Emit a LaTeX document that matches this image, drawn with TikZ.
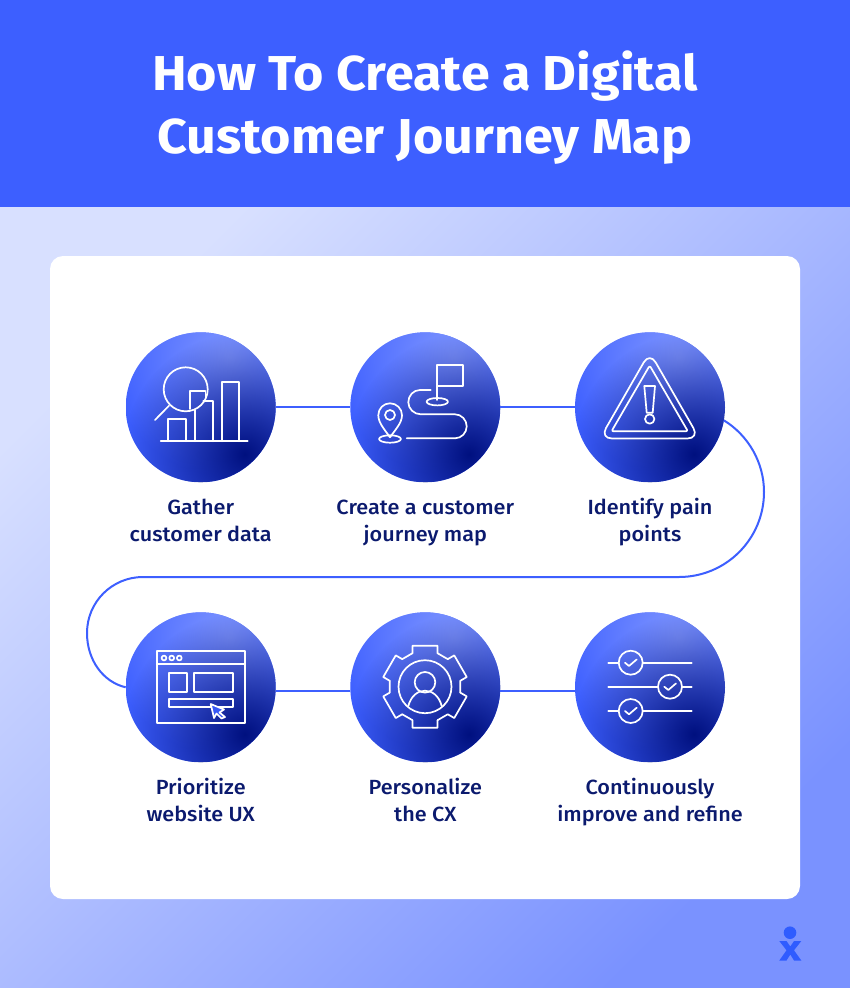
\documentclass[tikz,border=0pt]{standalone}
\usepackage{fontspec}
\setmainfont{Fira Sans}
\newfontfamily\labfont[FakeStretch=1.055]{Fira Sans Medium}
\newfontfamily\titlefont[FakeStretch=1.062]{Fira Sans}
\usetikzlibrary{fadings}
\definecolor{royal}{HTML}{3D5FFF}
\definecolor{navy}{HTML}{00107F}
\definecolor{inktext}{HTML}{0B1A6E}
\definecolor{bgl}{HTML}{D8E0FF}
\definecolor{bgr}{HTML}{7A92FF}
\definecolor{hilite}{HTML}{8298FF}
\definecolor{logoblue}{HTML}{2F5CFF}
\tikzfading[name=blobfade, inner color=transparent!0, outer color=transparent!100]
\tikzset{
  x=1pt,y=-1pt,
  gradcircle/.style={circle,minimum size=150pt,inner sep=0pt,outer sep=0pt,path picture={
    \fill[royal] (path picture bounding box.south west) rectangle (path picture bounding box.north east);
    \fill[hilite,path fading=blobfade] ([xshift=29pt,yshift=50pt]path picture bounding box.center) circle[radius=120pt];
    \fill[navy,path fading=blobfade] ([xshift=44pt,yshift=-47pt]path picture bounding box.center) circle[radius=122pt];
  }},
  link/.style={draw=royal,line width=2pt},
  ico/.style={draw=white,line width=1.7pt,line join=round,line cap=round},
  steplabel/.style={font=\labfont\fontsize{20.5}{27}\selectfont,text=inktext,align=center,anchor=base},
  titleline/.style={font=\titlefont\bfseries\fontsize{49}{62}\selectfont,text=white,anchor=base},
}
\begin{document}
\begin{tikzpicture}
\useasboundingbox (0,0) rectangle (850,988);
% background
\shade[left color=bgl,right color=bgr,shading angle=45] (0,207) rectangle (850,988);
\fill[royal] (0,0) rectangle (850,207);
\fill[white,rounded corners=13pt] (50,256) rectangle (800,899);
% title
\node[titleline] (t1) at (425,90) {How To Create a Digital};
\node[titleline] (t2) at (425,153) {Customer Journey Map};
% circles
\node[gradcircle] (c1) at (200.7,407.3) {};
\node[gradcircle] (c2) at (425.3,407.3) {};
\node[gradcircle] (c3) at (650,407.3) {};
\node[gradcircle] (c4) at (200.7,687.3) {};
\node[gradcircle] (c5) at (425.3,687.3) {};
\node[gradcircle] (c6) at (650,687.3) {};
% connectors
\draw[link] (c1) -- (c2);
\draw[link] (c2) -- (c3);
\draw[link] (c4.-3) -- (c5.183);
\draw[link] (c5.-3) -- (c6.183);
\draw[link] (c3.-10) .. controls (748.3,435.4) and (764,462.4) .. (764,492)
  .. controls (764,539) and (726,577) .. (679,577) -- (143,577)
  .. controls (112,577) and (87,602) .. (87,633)
  .. controls (87,660) and (103,682) .. (c4.west);
% icon 1
\draw[ico] (185.7,389.3) circle[radius=22];
\draw[ico] (169,405.7) -- (155,420);
\draw[ico] (160.7,441.3) -- (247.7,441.3);
\draw[ico] (168.3,441.3) -- (168.3,419.3) -- (186,419.3) -- (186,441.3);
\draw[ico] (190.3,409) -- (190.3,391) -- (205.5,391) -- (205.5,401);
\draw[ico] (195,441.3) -- (195,410);
\draw[ico] (203.3,401) -- (212.7,401) -- (212.7,441.3);
\draw[ico] (221.7,441.3) -- (221.7,382.3) -- (239.3,382.3) -- (239.3,441.3);
% icon 2
\draw[ico] (437.3,400) -- (437.3,365.3) -- (462.7,365.3) -- (462.7,385.7) -- (437.3,385.7);
\draw[ico] (437.3,401.7) ellipse[x radius=10.7,y radius=3.7];
\draw[ico] (430.7,390) -- (420,390) .. controls (413.4,390) and (408.3,395.6) .. (408.3,402.2)
  .. controls (408.3,408.8) and (414,414.3) .. (420.7,414.3) -- (455,414.3)
  .. controls (461.5,414.3) and (466.7,420) .. (466.7,426.3)
  .. controls (466.7,432.8) and (461.5,438.3) .. (455,438.3) -- (406.7,438.3);
\draw[ico] (390,437.3) .. controls (385,430) and (378.3,423) .. (378.3,415.3)
  .. controls (378.3,408.5) and (383.5,403.3) .. (390,403.3)
  .. controls (396.5,403.3) and (402,408.5) .. (402,415.3)
  .. controls (402,423) and (395,430) .. (390,437.3);
\draw[ico] (390,415) circle[radius=5];
\draw[ico] (390,439) ellipse[x radius=11,y radius=3.7];
% icon 3
\draw[ico,rounded corners=12pt] (649.7,352) -- (600,438.5) -- (699.4,438.5) -- cycle;
\draw[ico,rounded corners=2pt] (649.7,365.5) -- (611.5,431.3) -- (687.9,431.3) -- cycle;
\draw[ico] (644.3,386) -- (655,386) -- (652.7,412.7) -- (646.7,412.7) -- cycle;
\draw[ico] (649.7,419) circle[radius=4.7];
% icon 4
\draw[ico] (156.7,651.3) rectangle (245,722.7);
\draw[ico] (156.7,664) -- (245,664);
\foreach \x in {164,171.7,179.3}{\draw[ico] (\x,658) circle[radius=2.4];}
\draw[ico] (169.3,672.7) rectangle (187.3,692);
\draw[ico] (194.3,672.7) rectangle (232.7,692);
\draw[ico] (169.3,698.7) rectangle (232.7,707.3);
\draw[ico,fill=royal!92!navy] (210.7,704) -- (224,709.5) -- (219.5,712.5) -- (225,717) -- (221.5,718.5) -- (216.5,713.5) -- (214,718) -- cycle;
% icon 5
\begin{scope}[shift={(425,686.7)}]
\foreach \a in {0,60,...,300}{
  \draw[ico,rotate=\a] (-12.5,-33.5) -- (-12.5,-41) -- (12.5,-41) -- (12.5,-33.5) -- (22.76,-27.58);
}
\draw[ico] (0,0) circle[radius=26.5];
\draw[ico] (0,-4.4) circle[radius=10.3];
\draw[ico] (-16.7,19.3) .. controls (-14,9) and (-7,4) .. (0,4) .. controls (7,4) and (14,9) .. (16.7,19.3);
\end{scope}
% icon 6
\draw[ico] (608.3,662.7) -- (618.7,662.7) (642.7,662.7) -- (691.7,662.7);
\draw[ico] (608.3,686.7) -- (658,686.7) (682,686.7) -- (691.7,686.7);
\draw[ico] (608.3,711) -- (618.7,711) (642.7,711) -- (691.7,711);
\draw[ico] (630.7,662.7) circle[radius=12];
\draw[ico] (670,686.7) circle[radius=12];
\draw[ico] (630.7,711) circle[radius=12];
\draw[ico] (625,662.7) -- (629,666) -- (636.7,659.4);
\draw[ico] (664.3,686.7) -- (668.3,690) -- (676,683.4);
\draw[ico] (625,711) -- (629,714.3) -- (636.7,707.7);
% labels
\node[steplabel] (l1) at (200.7,514) {Gather};
\node[steplabel] (l1b) at (200.7,541) {customer data};
\node[steplabel] (l2) at (425.3,514) {Create a customer};
\node[steplabel] (l2b) at (425.3,541) {journey map};
\node[steplabel] (l3) at (650,514) {Identify pain};
\node[steplabel] (l3b) at (650,541) {points};
\node[steplabel] (l4) at (200.7,794) {Prioritize};
\node[steplabel] (l4b) at (200.7,821) {website UX};
\node[steplabel] (l5) at (425.3,794) {Personalize};
\node[steplabel] (l5b) at (425.3,821) {the CX};
\node[steplabel] (l6) at (650,794) {Continuously};
\node[steplabel] (l6b) at (650,821) {improve and refine};
% logo
\fill[logoblue] (790,932.7) circle[radius=6.3];
\fill[logoblue] (779.3,941) -- (786.5,941) -- (790.3,946.5) -- (794,941) -- (801.3,941) -- (794,950.3) -- (801.3,960.5) -- (794,960.5) -- (790.3,954.5) -- (786.5,960.5) -- (779.3,960.5) -- (786.5,950.3) -- cycle;
\end{tikzpicture}
\end{document}
